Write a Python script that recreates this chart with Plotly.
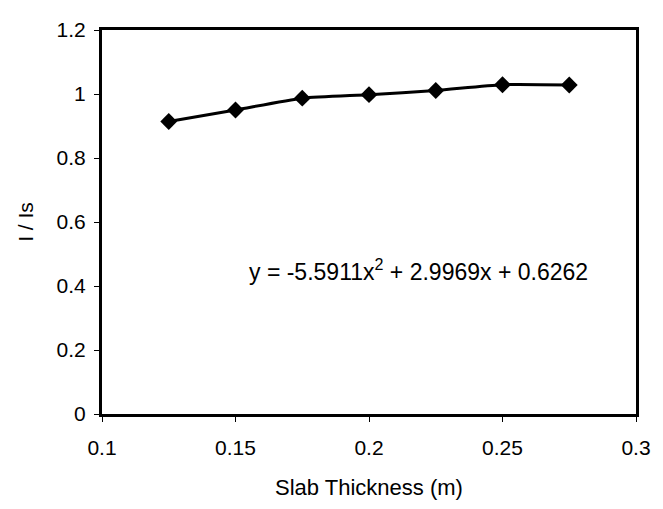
import plotly.graph_objects as go

# Relative intensity against slab thickness
thickness = [0.125, 0.15, 0.175, 0.2, 0.225, 0.25, 0.275]
intensity_ratio = [0.914, 0.950, 0.987, 0.998, 1.011, 1.029, 1.028]

x_ticks = [0.1, 0.15, 0.2, 0.25, 0.3]
x_tick_text = ["0.1", "0.15", "0.2", "0.25", "0.3"]
y_ticks = [0, 0.2, 0.4, 0.6, 0.8, 1.0, 1.2]
y_tick_text = ["0", "0.2", "0.4", "0.6", "0.8", "1", "1.2"]

equation = "y = -5.5911x<sup>2</sup> + 2.9969x + 0.6262"
eq_pos = (0.2186, 0.451)

FONT = "Liberation Sans, Arial, sans-serif"

fig = go.Figure()
fig.add_trace(go.Scatter(
    x=thickness, y=intensity_ratio,
    mode="lines+markers",
    line=dict(color="black", width=3, shape="spline", smoothing=0.6),
    marker=dict(symbol="diamond", size=13, color="black"),
    showlegend=False,
))

fig.add_annotation(
    x=eq_pos[0], y=eq_pos[1], xref="x", yref="y",
    text=equation, showarrow=False,
    font=dict(family=FONT, size=23, color="black"),
)

axis_common = dict(
    showgrid=False, zeroline=False,
    showline=True, linecolor="black", linewidth=3, mirror=True,
    ticks="outside", ticklen=5, tickwidth=1, tickcolor="black",
    tickfont=dict(family=FONT, size=21, color="black"),
)

fig.update_xaxes(
    range=[0.1, 0.3], tickvals=x_ticks, ticktext=x_tick_text,
    ticklabelstandoff=8,
    title=dict(text="Slab Thickness (m)", font=dict(family=FONT, size=22, color="black"), standoff=22),
    **axis_common,
)
fig.update_yaxes(
    range=[0, 1.2], tickvals=y_ticks, ticktext=y_tick_text,
    ticklabelstandoff=4,
    title=dict(text="I / Is", font=dict(family=FONT, size=21, color="black"), standoff=18),
    **axis_common,
)

fig.update_layout(
    width=663, height=509,
    margin=dict(l=102, r=13, t=30, b=94),
    paper_bgcolor="white", plot_bgcolor="white",
)

fig.write_html("out.html")
